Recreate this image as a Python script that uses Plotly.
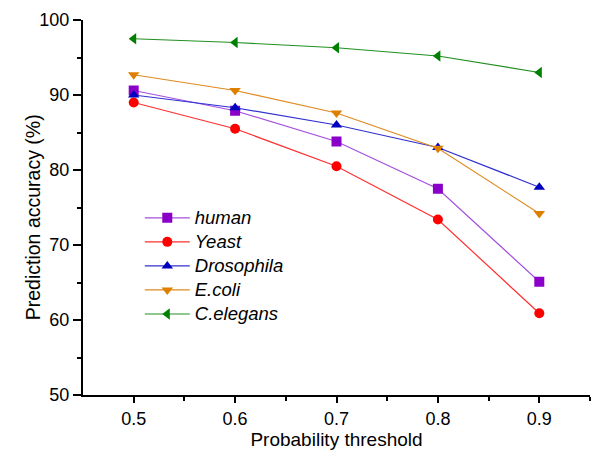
import plotly.graph_objects as go

thresholds = [0.5, 0.6, 0.7, 0.8, 0.9]
human = [90.6, 87.9, 83.8, 77.5, 65.1]
yeast = [89.0, 85.5, 80.5, 73.4, 60.9]
drosophila = [90.0, 88.3, 86.0, 83.0, 77.7]
ecoli = [92.7, 90.6, 87.6, 82.9, 74.2]
celegans = [97.5, 97.0, 96.3, 95.2, 93.0]

series = [
    ("human", human, "square", "#8A00C8", "#A450E0"),
    ("Yeast", yeast, "circle", "#FF0000", "#FF3030"),
    ("Drosophila", drosophila, "triangle-up", "#0000C0", "#3030D0"),
    ("E.coli", ecoli, "triangle-down", "#DF7F00", "#E08A20"),
    ("C.elegans", celegans, "triangle-left", "#008000", "#209020"),
]

fig = go.Figure()
for name, vals, sym, mcol, lcol in series:
    fig.add_trace(go.Scatter(
        x=thresholds, y=vals,
        name=f"<i><span style='font-size:18.5px'>{name}</span></i>",
        mode="lines+markers",
        line=dict(color=lcol, width=1.2),
        marker=dict(symbol=sym, size=10, color=mcol, line=dict(width=0)),
    ))

font = "Liberation Sans, Arial, sans-serif"
fig.update_layout(
    width=600, height=456,
    margin=dict(l=83, r=10, t=16, b=60),
    paper_bgcolor="white", plot_bgcolor="white",
    font=dict(family=font, size=18, color="black"),
    showlegend=True,
    legend=dict(x=0.112, y=0.518, xanchor="left", yanchor="top",
                bgcolor="rgba(0,0,0,0)", font=dict(size=16.2, color="black"),
                tracegroupgap=0, itemwidth=45),
    xaxis=dict(range=[0.45, 0.95], tickvals=[0.5, 0.6, 0.7, 0.8, 0.9],
               ticktext=["0.5", "0.6", "0.7", "0.8", "0.9"],
               showline=True, linecolor="black", linewidth=2,
               ticks="outside", ticklen=6, tickwidth=1.5, tickcolor="black",
               minor=dict(ticks="outside", tickvals=[0.55, 0.65, 0.75, 0.85, 0.95],
                          ticklen=4, tickwidth=1.5, tickcolor="black"),
               showgrid=False, zeroline=False,
               title=dict(text="Probability threshold", font=dict(size=19), standoff=4),
               tickfont=dict(size=18)),
    yaxis=dict(range=[50, 100], tickvals=[50, 60, 70, 80, 90, 100],
               showline=True, linecolor="black", linewidth=2,
               ticks="outside", ticklen=8, tickwidth=1.5, tickcolor="black",
               minor=dict(ticks="outside", tickvals=[55, 65, 75, 85, 95],
                          ticklen=4, tickwidth=1.5, tickcolor="black"),
               showgrid=False, zeroline=False,
               tickfont=dict(size=18)),
    annotations=[dict(text="Prediction accuracy (%)", textangle=-90,
                      xref="paper", yref="paper", x=0, y=0.474,
                      xanchor="center", yanchor="middle", xshift=-50,
                      showarrow=False, font=dict(size=19.5, color="black"))],
)

fig.write_html("out.html", config={"displayModeBar": False},
               post_script="document.body.style.margin='0';")
